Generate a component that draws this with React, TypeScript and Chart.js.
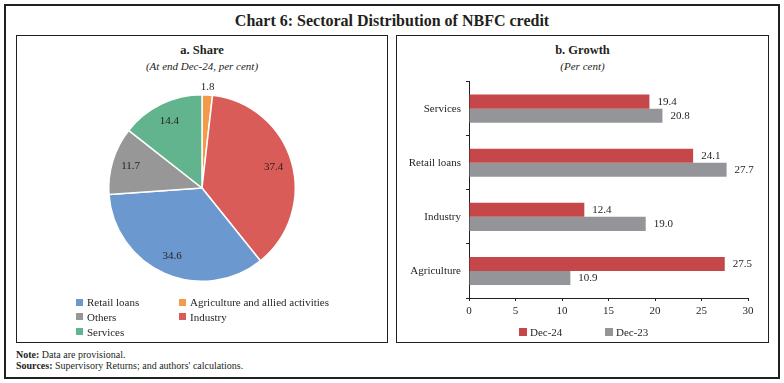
import React, { useEffect, useRef } from "react";
import { Chart, registerables } from "chart.js";

Chart.register(...registerables);

// ---------- Data ----------
const shareLabels = ["Agriculture and allied activities", "Industry", "Retail loans", "Others", "Services"];
const shareValues = [1.8, 37.4, 34.6, 11.7, 14.4];
const shareColors = ["#F49A4C", "#DA5C58", "#6B98CF", "#979797", "#61B48D"];
const shareLegendOrder = ["Retail loans", "Agriculture and allied activities", "Others", "Industry", "Services"];

const growthCategories = ["Services", "Retail loans", "Industry", "Agriculture"];
const growthDec24 = [19.4, 24.1, 12.4, 27.5];
const growthDec23 = [20.8, 27.7, 19.0, 10.9];
const growthSeries = ["Dec-24", "Dec-23"];
const growthColors = ["#C6474A", "#939598"];
const xMin = 0;
const xMax = 30;
const xStep = 5;

const FONT = "'Liberation Serif', 'DejaVu Serif', serif";
const INK = "#231f20";

const pieLabelPlugin = {
  id: "pieLabels",
  afterDatasetsDraw(chart: any) {
    const ctx = chart.ctx;
    const meta = chart.getDatasetMeta(0);
    const data = chart.data.datasets[0].data as number[];
    const total = data.reduce((a, b) => a + b, 0);
    ctx.save();
    ctx.font = `11px ${FONT}`;
    ctx.fillStyle = INK;
    ctx.textAlign = "center";
    ctx.textBaseline = "middle";
    meta.data.forEach((arc: any, i: number) => {
      const p = arc.getProps(["x", "y", "startAngle", "endAngle", "outerRadius"], true);
      const mid = (p.startAngle + p.endAngle) / 2;
      const share = data[i] / total;
      const r = share < 0.05 ? p.outerRadius + 8 : p.outerRadius * 0.8;
      ctx.fillText(data[i].toFixed(1), p.x + Math.cos(mid) * r, p.y + Math.sin(mid) * r);
    });
    ctx.restore();
  },
};

const barLabelPlugin = {
  id: "barLabels",
  afterDatasetsDraw(chart: any) {
    const ctx = chart.ctx;
    ctx.save();
    ctx.font = `11px ${FONT}`;
    ctx.fillStyle = INK;
    ctx.textAlign = "left";
    ctx.textBaseline = "middle";
    chart.data.datasets.forEach((ds: any, di: number) => {
      const meta = chart.getDatasetMeta(di);
      meta.data.forEach((bar: any, i: number) => {
        const p = bar.getProps(["x", "y"], true);
        ctx.fillText((ds.data[i] as number).toFixed(1), p.x + 8, p.y + 0.5);
      });
    });
    ctx.restore();
  },
};

const abs = (left: number, top: number, extra: React.CSSProperties = {}): React.CSSProperties => ({
  position: "absolute",
  left,
  top,
  ...extra,
});

export default function App() {
  const pieRef = useRef<HTMLCanvasElement>(null);
  const barRef = useRef<HTMLCanvasElement>(null);

  useEffect(() => {
    const pie = new Chart(pieRef.current!, {
      type: "pie",
      data: {
        labels: shareLabels,
        datasets: [
          {
            data: shareValues,
            backgroundColor: shareColors,
            borderColor: "#ffffff",
            borderWidth: 1.5,
          },
        ],
      },
      options: {
        responsive: false,
        animation: false,
        layout: { padding: { top: 24, bottom: 18, left: 0, right: 0 } },
        plugins: { legend: { display: false }, tooltip: { enabled: false } },
      },
      plugins: [pieLabelPlugin],
    });

    const bar = new Chart(barRef.current!, {
      type: "bar",
      data: {
        labels: growthCategories,
        datasets: [
          { label: growthSeries[0], data: growthDec24, backgroundColor: growthColors[0] },
          { label: growthSeries[1], data: growthDec23, backgroundColor: growthColors[1] },
        ],
      },
      options: {
        indexAxis: "y",
        responsive: false,
        animation: false,
        layout: { padding: { top: 3, right: 20, left: 0, bottom: 0 } },
        datasets: { bar: { categoryPercentage: 0.52, barPercentage: 1 } },
        plugins: { legend: { display: false }, tooltip: { enabled: false } },
        scales: {
          x: {
            min: xMin,
            max: xMax,
            ticks: {
              stepSize: xStep,
              color: INK,
              padding: 4,
              font: { family: FONT, size: 11 },
            },
            grid: { display: true, drawOnChartArea: false, drawTicks: true, tickLength: 3, color: INK },
            border: { display: true, color: INK, width: 1 },
            afterFit: (scale: any) => {
              scale.height = 27;
            },
          },
          y: {
            ticks: { color: INK, padding: 5, font: { family: FONT, size: 11 } },
            grid: { display: true, drawOnChartArea: false, drawTicks: true, tickLength: 3, color: INK },
            border: { display: true, color: INK, width: 1 },
            afterFit: (scale: any) => {
              scale.width = 72;
            },
          },
        },
      },
      plugins: [barLabelPlugin],
    });

    return () => {
      pie.destroy();
      bar.destroy();
    };
  }, []);

  const legendCols = [76, 179];
  const legendRows = [302, 316.5, 331.5];

  const textStyle: React.CSSProperties = { fontFamily: FONT, color: INK, whiteSpace: "nowrap" };

  return (
    <div
      style={{
        position: "fixed",
        left: 0,
        top: 0,
        width: 784,
        height: 383,
        background: "#ffffff",
        overflow: "hidden",
        fontFamily: FONT,
        color: INK,
      }}
    >
      {/* outer frame */}
      <div style={abs(4, 4, { width: 776, height: 375, border: `2px solid ${INK}`, boxSizing: "border-box" })} />
      {/* title */}
      <div
        style={abs(0, 11, {
          ...textStyle,
          width: 784,
          textAlign: "center",
          fontSize: 16,
          fontWeight: "bold",
          lineHeight: "20px",
        })}
      >
        Chart 6: Sectoral Distribution of NBFC credit
      </div>

      {/* left panel */}
      <div style={abs(16, 35, { width: 372, height: 308, border: `1px solid ${INK}`, boxSizing: "border-box" })} />
      <div style={abs(16, 43, { ...textStyle, width: 372, textAlign: "center", fontSize: 12.5, fontWeight: "bold", lineHeight: "14px" })}>
        a. Share
      </div>
      <div style={abs(16, 58.5, { ...textStyle, width: 372, textAlign: "center", fontSize: 11, fontStyle: "italic", lineHeight: "14px" })}>
        (At end Dec-24, per cent)
      </div>
      <canvas ref={pieRef} width={370} height={230} style={abs(17, 70, { width: 370, height: 230 })} />
      {shareLegendOrder.map((name, k) => {
        const idx = shareLabels.indexOf(name);
        const col = k % 2;
        const row = Math.floor(k / 2);
        const x = legendCols[col];
        const y = legendRows[row];
        return (
          <React.Fragment key={name}>
            <div style={abs(x, y - 3.5, { width: 7, height: 7, background: shareColors[idx] })} />
            <div style={abs(x + 11, y - 7, { ...textStyle, fontSize: 11, lineHeight: "14px" })}>{name}</div>
          </React.Fragment>
        );
      })}

      {/* right panel */}
      <div style={abs(396, 35, { width: 373, height: 308, border: `1px solid ${INK}`, boxSizing: "border-box" })} />
      <div style={abs(396, 43, { ...textStyle, width: 373, textAlign: "center", fontSize: 12.5, fontWeight: "bold", lineHeight: "14px" })}>
        b. Growth
      </div>
      <div style={abs(396, 58.5, { ...textStyle, width: 373, textAlign: "center", fontSize: 11, fontStyle: "italic", lineHeight: "14px" })}>
        (Per cent)
      </div>
      <canvas ref={barRef} width={371} height={255} style={abs(397, 70, { width: 371, height: 255 })} />
      {growthSeries.map((name, i) => {
        const x = [519, 605][i];
        const y = 332;
        return (
          <React.Fragment key={name}>
            <div style={abs(x, y - 4, { width: 8, height: 8, background: growthColors[i] })} />
            <div style={abs(x + 11, y - 7, { ...textStyle, fontSize: 11, lineHeight: "14px" })}>{name}</div>
          </React.Fragment>
        );
      })}

      {/* notes */}
      <div style={abs(16, 349, { ...textStyle, fontSize: 10, lineHeight: "12px" })}>
        <b>Note:</b> Data are provisional.
      </div>
      <div style={abs(16, 359.5, { ...textStyle, fontSize: 10, lineHeight: "12px" })}>
        <b>Sources:</b> Supervisory Returns; and authors' calculations.
      </div>
    </div>
  );
}
